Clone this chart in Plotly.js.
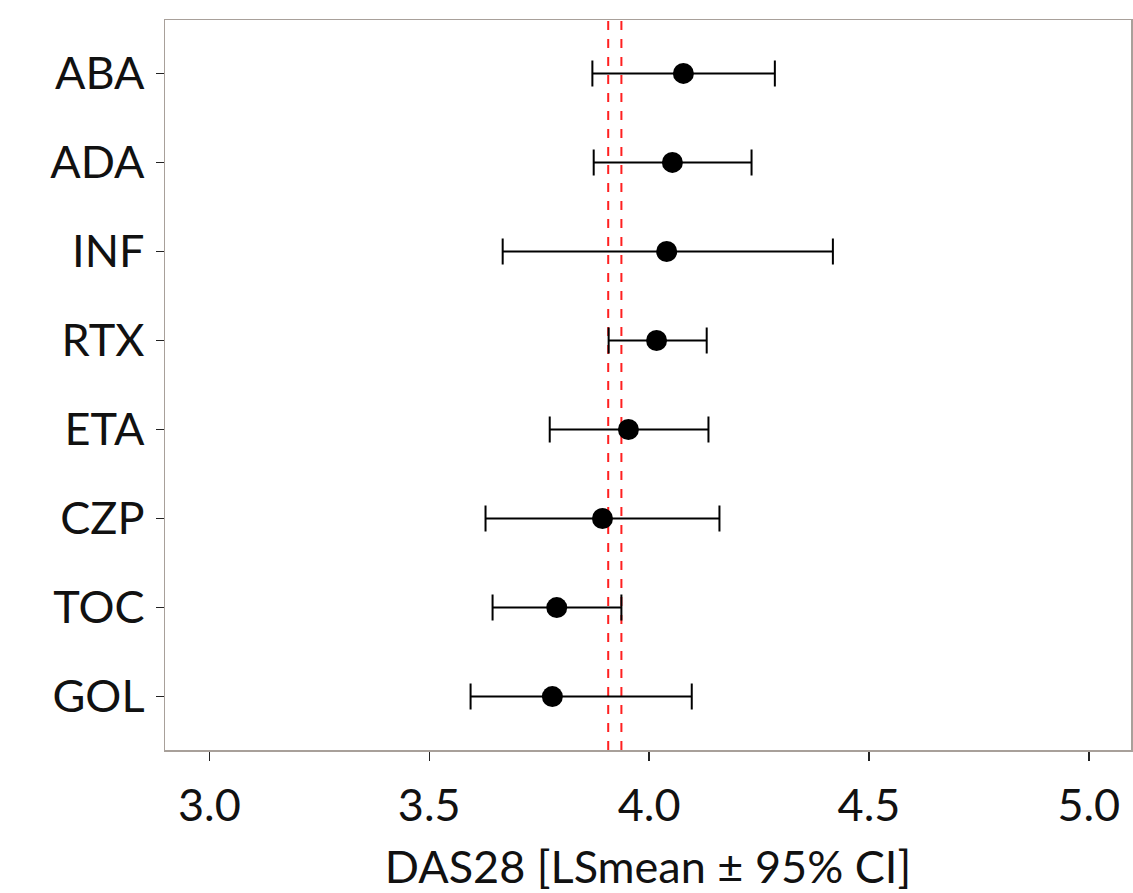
<!DOCTYPE html>
<html>
<head>
<meta charset="utf-8">
<script src="https://cdn.plot.ly/plotly-3.0.1.min.js"></script>
<style>html,body{margin:0;padding:0;background:#fff;}#chart{width:1133px;height:893px;}</style>
</head>
<body>
<div id="chart"></div>
<script>
const drugs = ["ABA", "ADA", "INF", "RTX", "ETA", "CZP", "TOC", "GOL"];
const lsmean = [4.078, 4.053, 4.040, 4.017, 3.953, 3.894, 3.790, 3.780];
const ciLow  = [3.871, 3.874, 3.667, 3.908, 3.774, 3.628, 3.644, 3.594];
const ciHigh = [4.286, 4.233, 4.418, 4.131, 4.135, 4.160, 3.937, 4.097];
const refLines = [3.907, 3.937];
const xTicks = [3.0, 3.5, 4.0, 4.5, 5.0];
const xTickText = ["3.0", "3.5", "4.0", "4.5", "5.0"];

const plus = lsmean.map((m, i) => ciHigh[i] - m);
const minus = lsmean.map((m, i) => m - ciLow[i]);

const trace = {
  type: "scatter",
  mode: "markers",
  x: lsmean,
  y: drugs,
  marker: {color: "#000000", size: 21},
  error_x: {type: "data", symmetric: false, array: plus, arrayminus: minus,
            color: "#000000", thickness: 2, width: 13},
  showlegend: false,
  hoverinfo: "x+y"
};

const shapes = refLines.map(v => ({
  type: "line", xref: "x", yref: "paper", x0: v, x1: v, y0: 0, y1: 1,
  line: {color: "#ff2020", width: 2, dash: "dash"}, layer: "below"
}));

const font = {family: "Lato, 'Open Sans', sans-serif", color: "#111111"};

const layout = {
  width: 1133, height: 893,
  margin: {l: 165, r: 2, t: 20, b: 143},
  paper_bgcolor: "#ffffff", plot_bgcolor: "#ffffff",
  font: font,
  xaxis: {
    range: [2.899, 5.096],
    tickvals: xTicks, ticktext: xTickText,
    showgrid: false, zeroline: false,
    showline: true, mirror: true, linecolor: "#a8a09a", linewidth: 1.5,
    ticks: "outside", ticklen: 9, tickwidth: 1.5, tickcolor: "#222222",
    ticklabelstandoff: 6,
    tickfont: {family: font.family, size: 45, color: "#111111"},
    title: {text: "DAS28 [LSmean ± 95% CI]", font: {family: font.family, size: 45, color: "#111111"}, standoff: 22}
  },
  yaxis: {
    type: "category",
    categoryorder: "array", categoryarray: drugs,
    range: [7.6, -0.6],
    showgrid: false, zeroline: false,
    showline: true, mirror: true, linecolor: "#a8a09a", linewidth: 1.5,
    ticks: "outside", ticklen: 8, tickwidth: 1.5, tickcolor: "#222222",
    tickfont: {family: font.family, size: 45, color: "#111111"},
    ticklabelstandoff: 2
  },
  shapes: shapes
};

Plotly.newPlot("chart", [trace], layout, {displayModeBar: false, staticPlot: true});
</script>
</body>
</html>
